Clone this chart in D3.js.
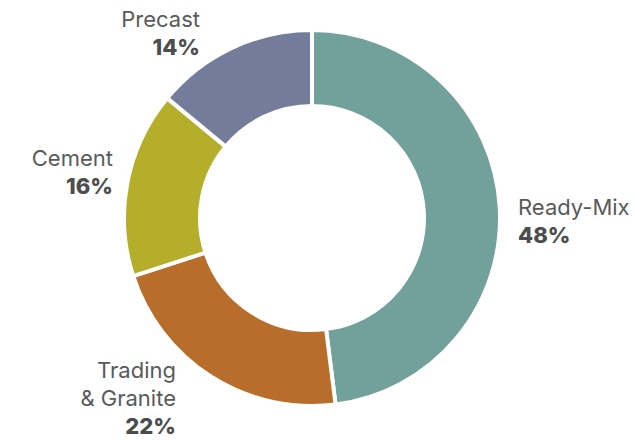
<!DOCTYPE html>
<html>
<head>
<meta charset="utf-8">
<script src="https://cdn.jsdelivr.net/npm/d3@7"></script>
<style>
  body { margin: 0; background: #fff; }
  text { font-family: Inter, "Noto Sans", sans-serif; }
  .name { fill: #5a5a5a; font-size: 22px; font-weight: 400; }
  .pct { fill: #4d4d4d; font-size: 22px; font-weight: 800; }
</style>
</head>
<body>
<div class="root"></div>
<script>
var segments = ['Ready-Mix', 'Trading & Granite', 'Cement', 'Precast'];
var shares = [48, 22, 16, 14];
var colors = ['#72a09b', '#b86d2a', '#b5ae2a', '#737c9b'];
// label lines for each segment, name split where the picture wraps it
var labelLines = [['Ready-Mix'], ['Trading', '& Granite'], ['Cement'], ['Precast']];

function drawChart() {
  var w = 634, h = 442;
  var cx = 312, cy = 218;

  var svg = d3.select('.root').append('svg')
    .attr('width', w)
    .attr('height', h);

  var data = segments.map(function(s, i) {
    return {name: s, value: shares[i], color: colors[i], lines: labelLines[i]};
  });

  var pie = d3.pie()
    .sort(null)
    .value(function(d) { return d.value; });

  var arc = d3.arc()
    .innerRadius(112)
    .outerRadius(188);

  var g = svg.append('g')
    .attr('transform', 'translate(' + cx + ',' + cy + ')');

  g.selectAll('path')
    .data(pie(data))
    .enter().append('path')
      .attr('d', arc)
      .style('fill', function(d) { return d.data.color; })
      .style('stroke', '#fff')
      .style('stroke-width', 4);

  // label anchors
  var labelPos = [
    {x: 518, y: 215, anchor: 'start'},
    {x: 176, y: 378, anchor: 'end'},
    {x: 113, y: 166, anchor: 'end'},
    {x: 200, y: 27, anchor: 'end'}
  ];
  var lineH = 28;

  data.forEach(function(d, i) {
    var p = labelPos[i];
    var t = svg.append('text')
      .attr('x', p.x)
      .attr('y', p.y)
      .attr('text-anchor', p.anchor);
    d.lines.forEach(function(line, j) {
      t.append('tspan')
        .attr('class', 'name')
        .attr('x', p.x)
        .attr('dy', j == 0 ? 0 : lineH)
        .text(line);
    });
    t.append('tspan')
      .attr('class', 'pct')
      .attr('x', p.x)
      .attr('dy', lineH)
      .text(d.value + '%');
  });
}

window.onload = function() {
  drawChart();
}
</script>
</body>
</html>
